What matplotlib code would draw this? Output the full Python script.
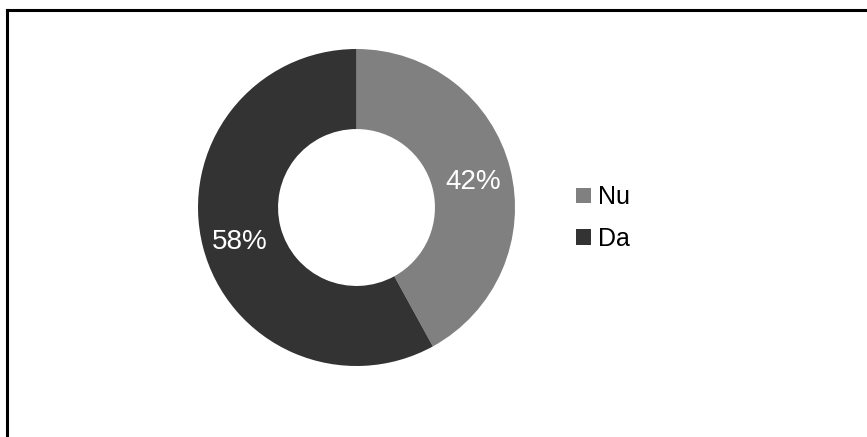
import matplotlib.pyplot as plt
from matplotlib.lines import Line2D
import numpy as np

labels = ["Nu", "Da"]
shares = [42, 58]
colors = ["#808080", "#333333"]

plt.rcParams['font.family'] = ['Liberation Sans', 'DejaVu Sans']

W, H = 867, 437
fig = plt.figure(figsize=(W / 100, H / 100), dpi=100)

# donut centred at (356, 207) px, outer radius ~158 px
cx, cy, r = 356.5, 207.5, 158.5
ax = fig.add_axes([(cx - r) / W, 1 - (cy + r) / H, 2 * r / W, 2 * r / H])
wedges, _ = ax.pie(shares, colors=colors, startangle=90, counterclock=False,
                   radius=1.0, wedgeprops=dict(width=0.505, edgecolor='none'))
ax.set_xlim(-1, 1)
ax.set_ylim(-1, 1)
ax.set_aspect('equal')
ax.axis('off')

# percentage labels, placed at mid-ring of each slice
for w, s in zip(wedges, shares):
    ang = np.deg2rad((w.theta1 + w.theta2) / 2)
    rr = 0.76
    ax.text(rr * np.cos(ang), rr * np.sin(ang) - 0.03, f"{s}%", color='white',
            fontsize=20, ha='center', va='center')

fig.legend(wedges, labels, loc='center left', bbox_to_anchor=(576 / W, 1 - 218 / H),
           frameon=False, fontsize=18, handlelength=0.58, handleheight=0.58,
           handletextpad=0.3, labelspacing=0.7, borderpad=0, borderaxespad=0)

# frame lines along top and left edges
fig.add_artist(Line2D([7 / W, 7 / W], [0, 1 - 10 / H], color='black', lw=2.2,
                      transform=fig.transFigure, solid_capstyle='projecting'))
fig.add_artist(Line2D([7 / W, 1], [1 - 10 / H, 1 - 10 / H], color='black', lw=2.2,
                      transform=fig.transFigure, solid_capstyle='projecting'))

fig.savefig("out.png", dpi=100, facecolor='white')
